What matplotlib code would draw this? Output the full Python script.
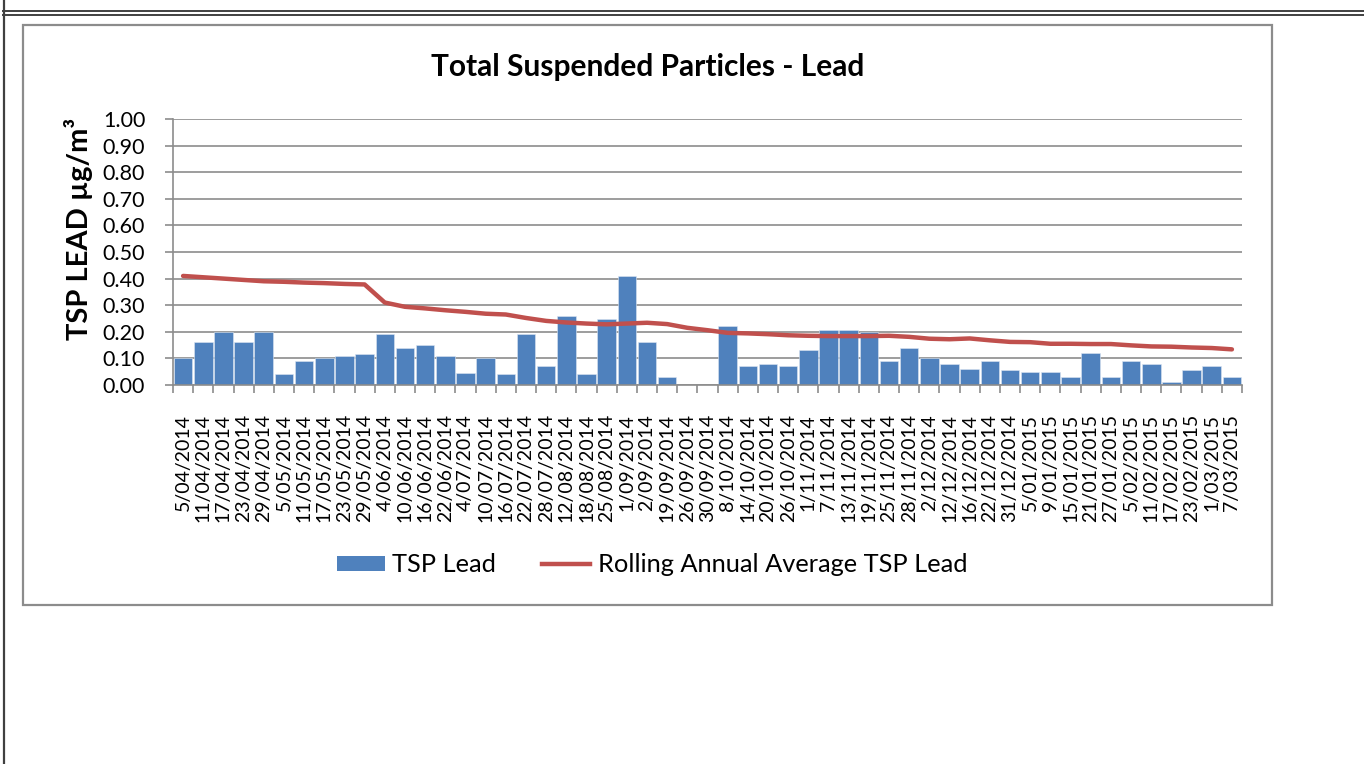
import matplotlib
matplotlib.use("Agg")
import matplotlib.pyplot as plt
from matplotlib.patches import Rectangle, Patch
from matplotlib.lines import Line2D
import numpy as np

dates = ["5/04/2014", "11/04/2014", "17/04/2014", "23/04/2014", "29/04/2014",
         "5/05/2014", "11/05/2014", "17/05/2014", "23/05/2014", "29/05/2014",
         "4/06/2014", "10/06/2014", "16/06/2014", "22/06/2014", "4/07/2014",
         "10/07/2014", "16/07/2014", "22/07/2014", "28/07/2014", "12/08/2014",
         "18/08/2014", "25/08/2014", "1/09/2014", "2/09/2014", "19/09/2014",
         "26/09/2014", "30/09/2014", "8/10/2014", "14/10/2014", "20/10/2014",
         "26/10/2014", "1/11/2014", "7/11/2014", "13/11/2014", "19/11/2014",
         "25/11/2014", "28/11/2014", "2/12/2014", "12/12/2014", "16/12/2014",
         "22/12/2014", "31/12/2014", "5/01/2015", "9/01/2015", "15/01/2015",
         "21/01/2015", "27/01/2015", "5/02/2015", "11/02/2015", "17/02/2015",
         "23/02/2015", "1/03/2015", "7/03/2015"]

# TSP lead result per sample (nan = no result)
tsp_lead = [0.10, 0.16, 0.20, 0.16, 0.20, 0.04, 0.09, 0.10, 0.11, 0.115,
            0.19, 0.14, 0.15, 0.11, 0.045, 0.10, 0.04, 0.19, 0.07, 0.26,
            0.04, 0.25, 0.41, 0.16, 0.03, np.nan, np.nan, 0.22, 0.07, 0.08,
            0.07, 0.13, 0.205, 0.205, 0.20, 0.09, 0.14, 0.10, 0.08, 0.06,
            0.09, 0.055, 0.05, 0.05, 0.03, 0.12, 0.03, 0.09, 0.08, 0.01,
            0.055, 0.07, 0.03]

rolling_avg = [0.41, 0.405, 0.40, 0.395, 0.39, 0.388, 0.385, 0.383, 0.38, 0.378,
               0.31, 0.294, 0.288, 0.281, 0.275, 0.268, 0.265, 0.252, 0.241, 0.235,
               0.231, 0.228, 0.231, 0.234, 0.229, 0.215, 0.206, 0.196, 0.194, 0.191,
               0.187, 0.185, 0.184, 0.184, 0.184, 0.185, 0.181, 0.174, 0.172, 0.175,
               0.168, 0.162, 0.161, 0.155, 0.155, 0.154, 0.154, 0.149, 0.145, 0.144,
               0.141, 0.139, 0.134]

W, H = 1364, 764
fig = plt.figure(figsize=(W / 100, H / 100), dpi=100)
plt.rcParams['font.family'] = ['Lato', 'DejaVu Sans']

# page / cell borders
fig.add_artist(Line2D([3 / W, 1], [1 - 10.5 / H] * 2, color='#404040', lw=1.4))
fig.add_artist(Line2D([3 / W, 1], [1 - 14.5 / H] * 2, color='#404040', lw=1.4))
fig.add_artist(Line2D([4 / W] * 2, [0, 1], color='#404040', lw=1.6))
fig.add_artist(Rectangle((23 / W, 1 - 605 / H), (1272 - 23) / W, (605 - 25) / H,
                         fill=False, edgecolor='#8c8c8c', lw=1.6))

ax = fig.add_axes([173 / W, 1 - 385 / H, (1242 - 173) / W, (385 - 119) / H])
x = np.arange(len(dates))

ax.bar(x, tsp_lead, width=0.92, color='#4F81BD', edgecolor='#DCE6F2', linewidth=0.4,
       zorder=2, label='TSP Lead')
ax.plot(x, rolling_avg, color='#C0504D', lw=3.2, solid_capstyle='round', zorder=3,
        label='Rolling Annual Average TSP Lead')

ax.set_xlim(-0.5, len(dates) - 0.5)
ax.set_ylim(0, 1.0)
ax.set_yticks(np.arange(0, 1.01, 0.1))
ax.set_yticklabels([f"{v:.2f}" for v in np.arange(0, 1.01, 0.1)], fontsize=15.5)
ax.yaxis.grid(True, color='#8c8c8c', lw=1.2)
ax.set_axisbelow(True)

ax.set_xticks(x)
ax.set_xticklabels(dates, rotation=90, fontsize=14, va='top', ha='center')
ax.set_xticks(np.arange(-0.5, len(dates), 1), minor=True)
ax.tick_params(axis='x', which='major', length=0, pad=21)
ax.tick_params(axis='x', which='minor', length=6, color='#8c8c8c', width=1.2)
ax.tick_params(axis='y', length=6, color='#8c8c8c', width=1.2, pad=14)

for s in ['top', 'right']:
    ax.spines[s].set_visible(False)
for s in ['left', 'bottom']:
    ax.spines[s].set_color('#8c8c8c')
    ax.spines[s].set_linewidth(1.2)

ax.set_ylabel("TSP LEAD µg/m³", fontsize=21, fontweight='bold')
ax.yaxis.set_label_coords(-0.075, 0.586)
fig.text(648 / W, 1 - 67 / H, "Total Suspended Particles - Lead", fontsize=21.5,
         fontweight='bold', ha='center', va='center')

handles = [Patch(facecolor='#4F81BD', label='TSP Lead'),
           Line2D([], [], color='#C0504D', lw=3.2, label='Rolling Annual Average TSP Lead')]
fig.legend(handles=handles, loc='center', bbox_to_anchor=(652 / W, 1 - 565 / H), ncol=2,
           frameon=False, fontsize=18.3, handlelength=1.9, handleheight=0.5,
           handletextpad=0.3, columnspacing=1.8)

fig.savefig("out.png", dpi=100)
